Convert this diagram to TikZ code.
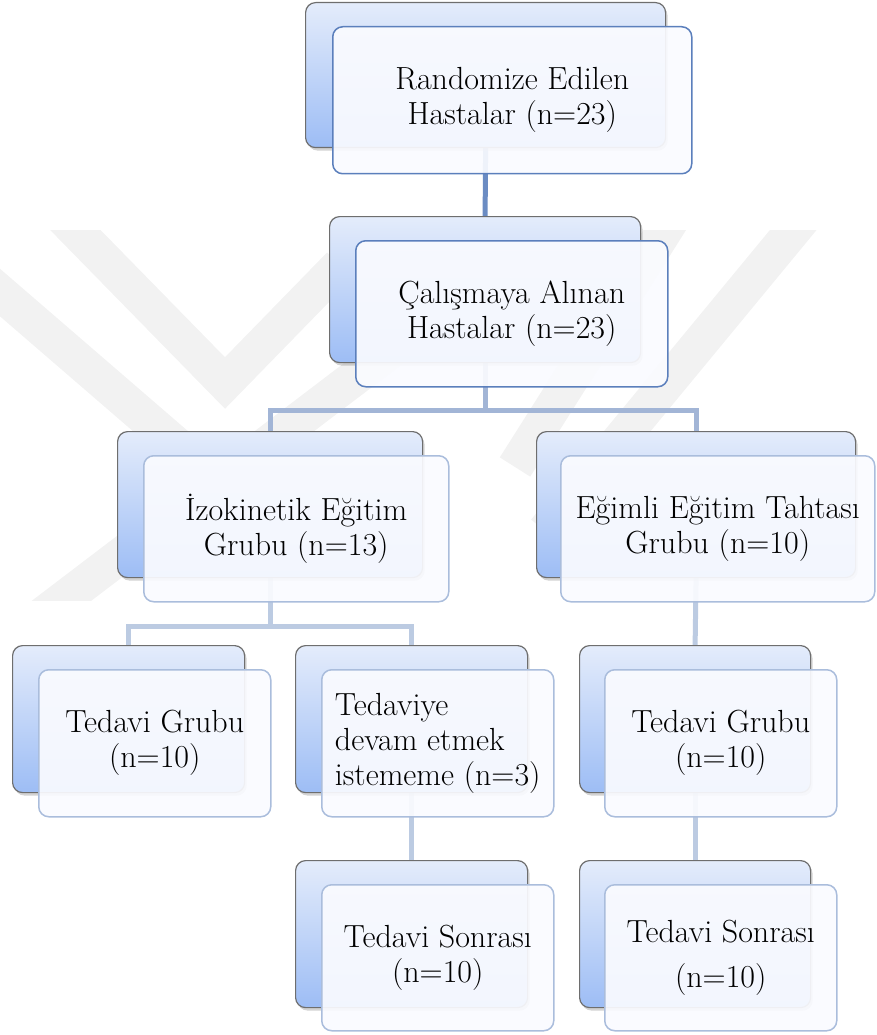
\documentclass[tikz,border=0pt]{standalone}
\usetikzlibrary{positioning,shadows,backgrounds}

\definecolor{backtop}{HTML}{E4ECFB}
\definecolor{backbot}{HTML}{9DBDF5}
\definecolor{backline}{HTML}{6E6E6E}
\definecolor{frontdark}{HTML}{5B7FBC}
\definecolor{frontlight}{HTML}{AABDDC}
\definecolor{frontfill}{HTML}{FAFBFF}
\definecolor{linkdark}{HTML}{6B8CC3}
\definecolor{linkmid}{HTML}{A2B5D6}
\definecolor{linklight}{HTML}{BCCBE2}
\definecolor{wmgray}{HTML}{F2F2F2}

\begin{document}
\begin{tikzpicture}[
    x=1pt, y=-1pt,
    backbox/.style={draw=backline, line width=1.2pt, rounded corners=10pt,
                    top color=backtop, bottom color=backbot, inner sep=0pt,
                    drop shadow={shadow xshift=2pt, shadow yshift=-3pt, opacity=0.35}},
    frontbox/.style={draw=frontlight, line width=1.5pt, rounded corners=10pt,
                     fill=frontfill, fill opacity=0.92, text opacity=1, inner sep=0pt,
                     align=center, font=\fontsize{32}{35}\selectfont},
    link/.style={line width=5pt, draw=linklight},
    wmark/.style={line width=36pt, draw=wmgray},
]
\useasboundingbox (0,0) rectangle (876,1035);

% ── Level 1 ──
\node[backbox, anchor=north west, minimum width=360pt, minimum height=145pt] (rand-b) at (305,2) {};
\node[frontbox, draw=frontdark, minimum width=359pt, minimum height=147pt,
      below right=24pt and 27pt of rand-b.north west] (rand) {Randomize Edilen\\Hastalar (n=23)};

% ── Level 2 ──
\node[backbox, anchor=north west, minimum width=311pt, minimum height=146pt] (cal-b) at (329,216) {};
\node[frontbox, draw=frontdark, minimum width=312pt, minimum height=146pt,
      below right=24pt and 26pt of cal-b.north west] (cal) {Çalışmaya Alınan\\Hastalar (n=23)};

% ── Level 3: groups ──
\node[backbox, anchor=north west, minimum width=305pt, minimum height=146pt] (izo-b) at (117,431) {};
\node[frontbox, minimum width=305pt, minimum height=146pt,
      below right=24pt and 26pt of izo-b.north west] (izo) {İzokinetik Eğitim\\Grubu (n=13)};

\node[backbox, anchor=north west, minimum width=319pt, minimum height=146pt] (egim-b) at (536,431) {};
\node[frontbox, minimum width=314pt, minimum height=146pt,
      below right=24pt and 24pt of egim-b.north west] (egim) {Eğimli Eğitim Tahtası\\Grubu (n=10)};

% ── Level 4 ──
\node[backbox, anchor=north west, minimum width=232pt, minimum height=147pt] (ted1-b) at (12,645) {};
\node[frontbox, minimum width=232pt, minimum height=147pt,
      below right=24pt and 26pt of ted1-b.north west] (ted1) {Tedavi Grubu\\(n=10)};

\node[backbox, anchor=north west, minimum width=232pt, minimum height=147pt] (ret-b) at (295,645) {};
\node[frontbox, align=left, minimum width=232pt, minimum height=147pt,
      below right=24pt and 26pt of ret-b.north west] (ret) {Tedaviye\\devam etmek\\istememe (n=3)};

\node[backbox, anchor=north west, minimum width=231pt, minimum height=147pt] (ted2-b) at (579,645) {};
\node[frontbox, minimum width=232pt, minimum height=147pt,
      below right=24pt and 25pt of ted2-b.north west] (ted2) {Tedavi Grubu\\(n=10)};

% ── Level 5 ──
\node[backbox, anchor=north west, minimum width=232pt, minimum height=147pt] (son1-b) at (295,860) {};
\node[frontbox, minimum width=232pt, minimum height=146pt,
      below right=24pt and 26pt of son1-b.north west] (son1) {Tedavi Sonrası\\(n=10)};

\node[backbox, anchor=north west, minimum width=231pt, minimum height=147pt] (son2-b) at (579,860) {};
\node[frontbox, minimum width=232pt, minimum height=146pt,
      below right=24pt and 25pt of son2-b.north west] (son2) {Tedavi Sonrası\\[10pt](n=10)};

\begin{pgfonlayer}{background}
% ── Watermark ──
\begin{scope}
\clip (0,230) rectangle (876,600);
\draw[wmark] (45,199) -- (225,383) -- (340,265);
\draw[wmark] (-40,258) -- (180,448);
\draw[wmark] (10,640) -- (345,385) -- (440,313);
\draw[wmark] (685,198) -- (553,407) -- (515,467);
\draw[wmark] (818,200) -- (620,440) -- (545,531);
\end{scope}

% ── Connectors ──
\draw[link, draw=linkdark] (rand-b.south) -- (cal-b.north);
\draw[link, draw=linkmid] (cal-b.south) -- ++(0,47) -| (izo-b.north);
\draw[link, draw=linkmid] (cal-b.south) -- ++(0,47) -| (egim-b.north);
\draw[link] (izo-b.south) -- ++(0,48) -| (ted1-b.north);
\draw[link] (izo-b.south) -- ++(0,48) -| (ret-b.north);
\draw[link] (egim-b.south) -- (ted2-b.north);
\draw[link] (ret-b.south) -- (son1-b.north);
\draw[link] (ted2-b.south) -- (son2-b.north);
\end{pgfonlayer}

\end{tikzpicture}
\end{document}
